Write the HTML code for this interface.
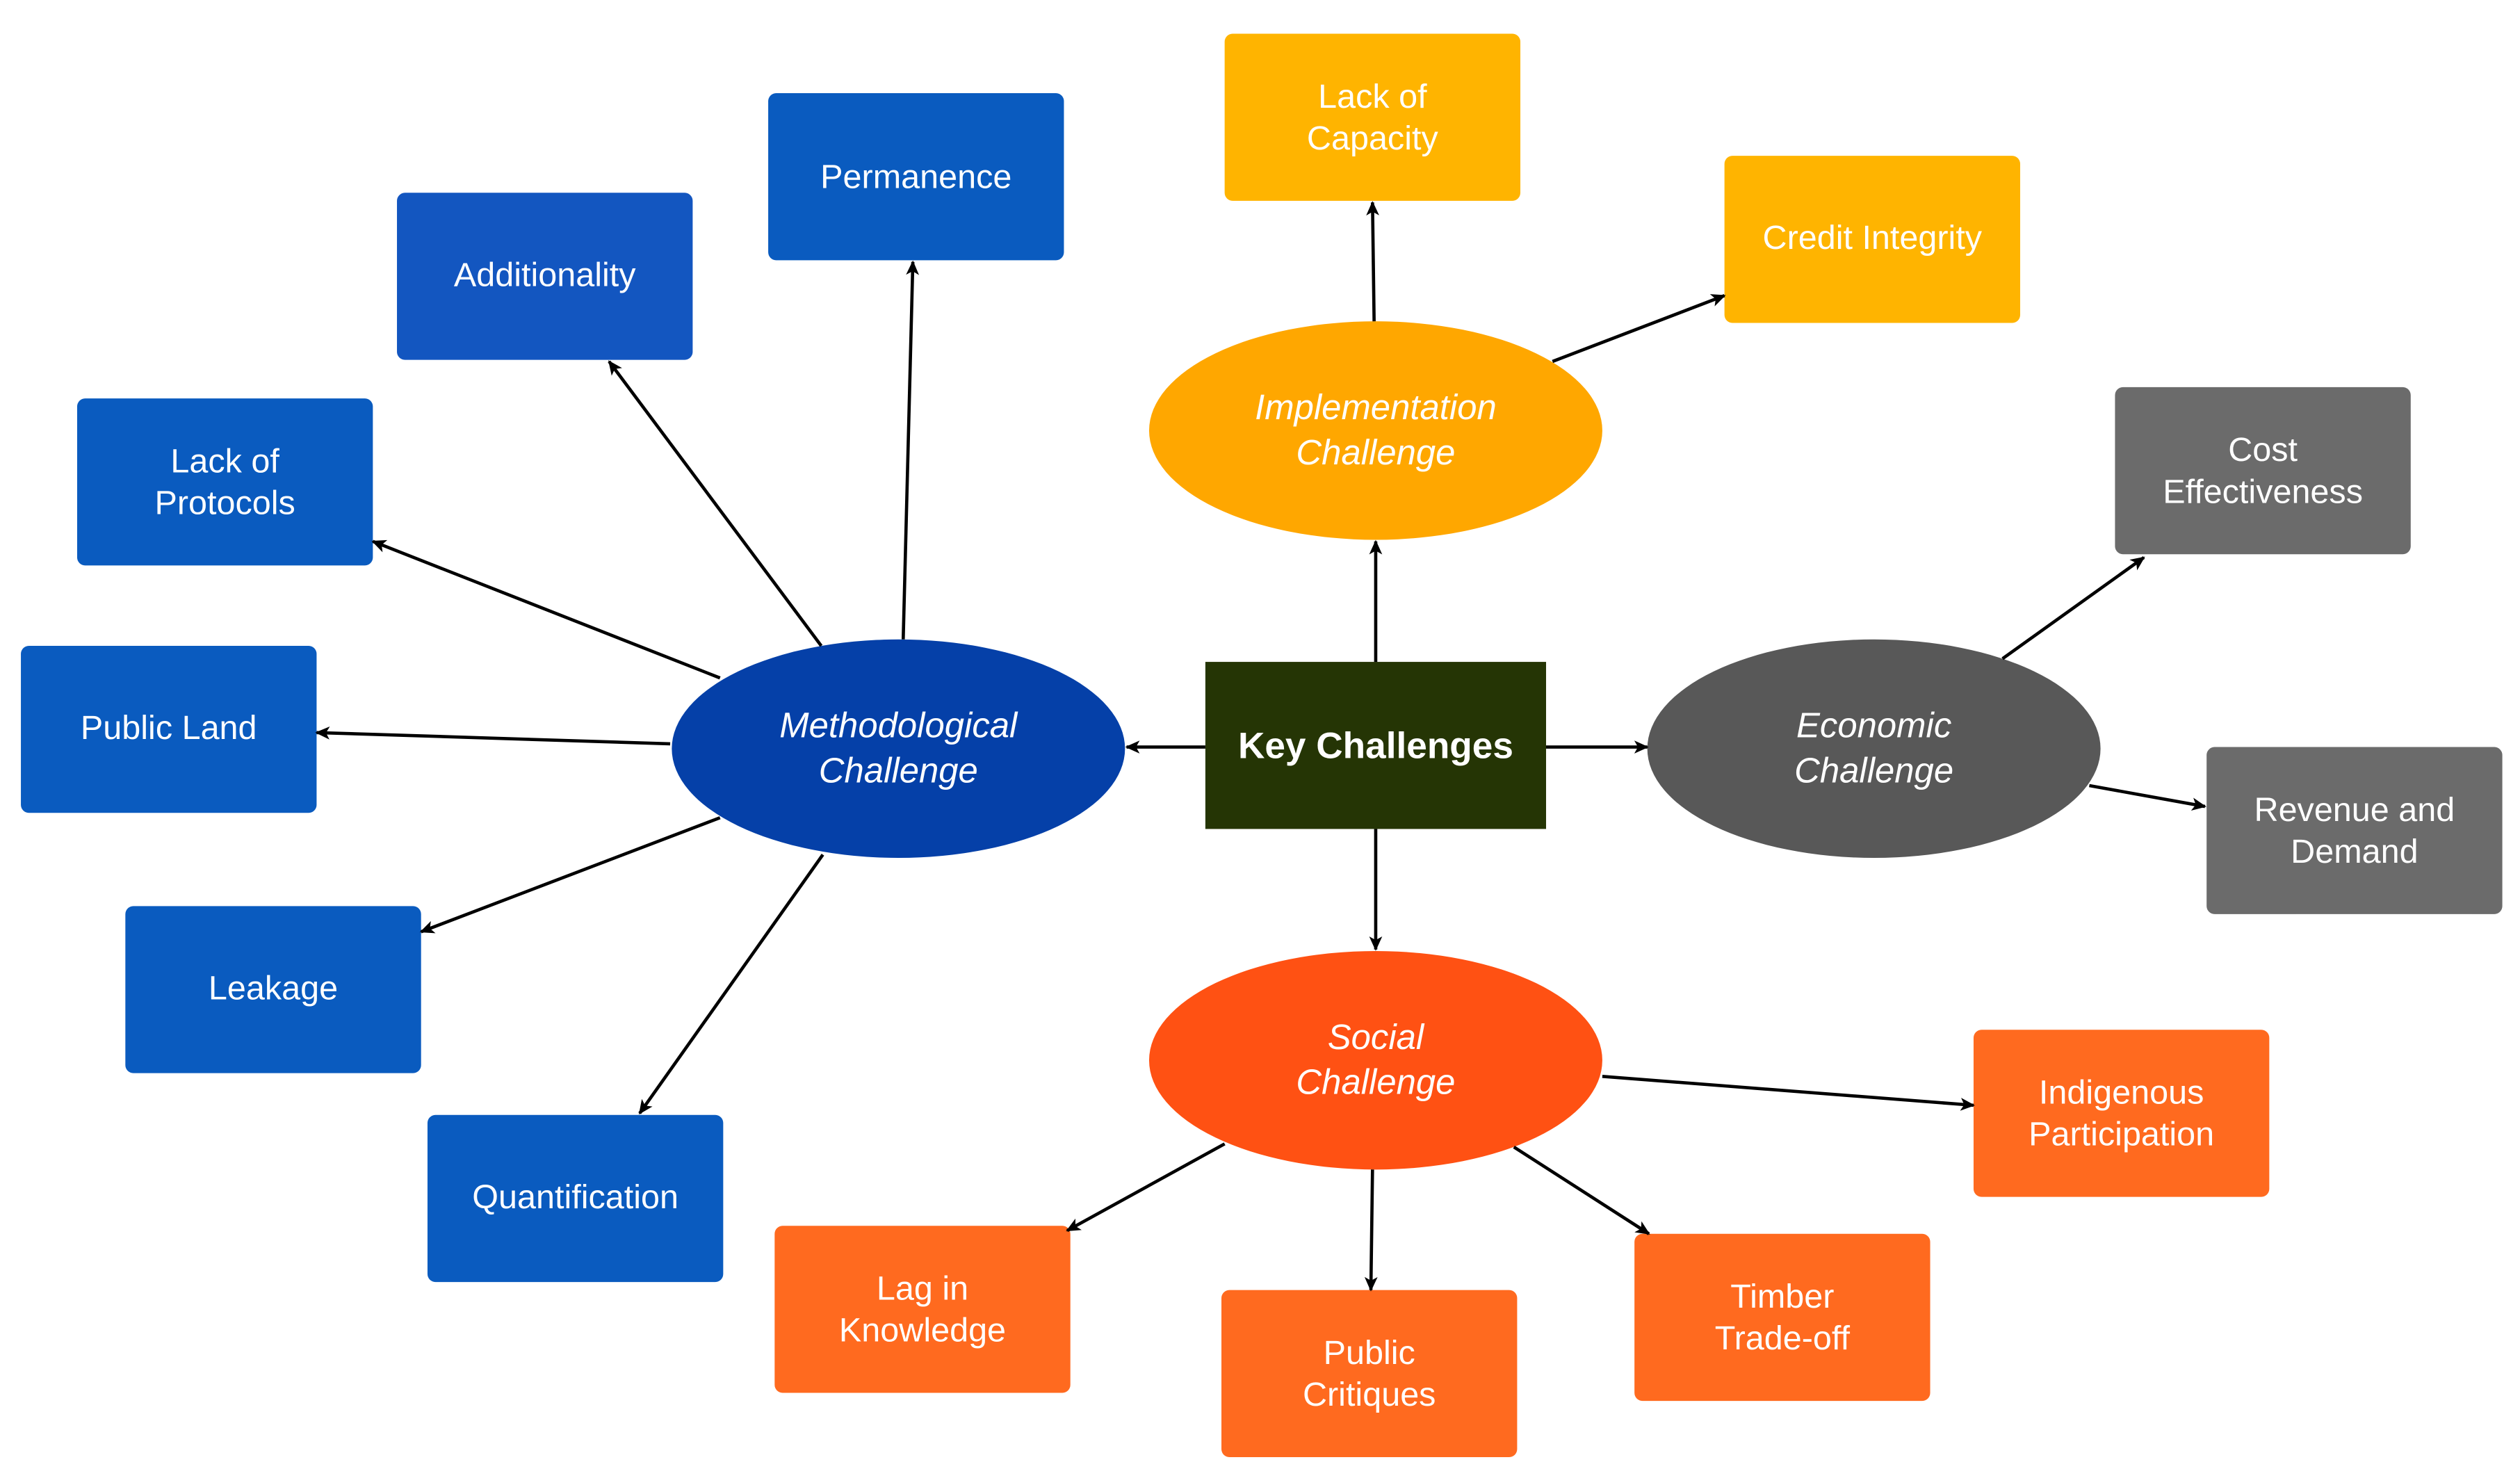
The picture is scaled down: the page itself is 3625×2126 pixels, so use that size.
<!DOCTYPE html>
<html><head><meta charset="utf-8"><style>
html,body{margin:0;padding:0;background:#fff;}
svg{display:block;}
text{font-family:"Liberation Sans",Arial,sans-serif;fill:#fff;font-size:21px;text-anchor:middle;}
.i{font-style:italic;font-size:22px;}
</style></head><body>
<svg width="3625" height="2126" viewBox="0 0 1568 920" preserveAspectRatio="none" xmlns="http://www.w3.org/2000/svg">
<defs>
<marker id="a" viewBox="0 0 20 20" refX="18" refY="10" markerWidth="9" markerHeight="9" markerUnits="userSpaceOnUse" orient="auto">
<path d="M0,1 L20,10 L0,19 L5,10 Z" fill="#000"/>
</marker>
</defs>
<rect width="1568" height="920" fill="#fff"/>
<!-- boxes -->
<g>
<rect x="478" y="58" width="184" height="104" rx="5" fill="#0a5bbf"/>
<rect x="247" y="120" width="184" height="104" rx="5" fill="#1356c0"/>
<rect x="48" y="248" width="184" height="104" rx="5" fill="#0a5bbf"/>
<rect x="13" y="402" width="184" height="104" rx="5" fill="#0a5bbf"/>
<rect x="78" y="564" width="184" height="104" rx="5" fill="#0a5bbf"/>
<rect x="266" y="694" width="184" height="104" rx="5" fill="#0a5bbf"/>
<rect x="762" y="21" width="184" height="104" rx="5" fill="#ffb400"/>
<rect x="1073" y="97" width="184" height="104" rx="5" fill="#ffb400"/>
<rect x="1316" y="241" width="184" height="104" rx="5" fill="#6b6b6b"/>
<rect x="1373" y="465" width="184" height="104" rx="5" fill="#6b6b6b"/>
<rect x="1228" y="641" width="184" height="104" rx="5" fill="#ff6a1f"/>
<rect x="1017" y="768" width="184" height="104" rx="5" fill="#ff6a1f"/>
<rect x="760" y="803" width="184" height="104" rx="5" fill="#ff6a1f"/>
<rect x="482" y="763" width="184" height="104" rx="5" fill="#ff6a1f"/>
<ellipse cx="559" cy="466" rx="141" ry="68" fill="#0540a8"/>
<ellipse cx="856" cy="268" rx="141" ry="68" fill="#ffa700"/>
<ellipse cx="1166" cy="466" rx="141" ry="68" fill="#585858"/>
<ellipse cx="856" cy="660" rx="141" ry="68" fill="#ff5113"/>
<rect x="750" y="412" width="212" height="104" fill="#253505"/>
</g>
<!-- arrows -->
<g stroke="#000" stroke-width="2" fill="none" marker-end="url(#a)">
<line x1="750" y1="465" x2="701" y2="465"/>
<line x1="962" y1="465" x2="1025" y2="465"/>
<line x1="856" y1="412" x2="856" y2="337"/>
<line x1="856" y1="516" x2="856" y2="591"/>
<line x1="855" y1="200" x2="854" y2="126"/>
<line x1="966" y1="225" x2="1073" y2="184"/>
<line x1="1246" y1="410" x2="1334" y2="347"/>
<line x1="1300" y1="489" x2="1372" y2="502"/>
<line x1="997" y1="670" x2="1228" y2="688"/>
<line x1="942" y1="714" x2="1026" y2="768"/>
<line x1="854" y1="728" x2="853" y2="803"/>
<line x1="762" y1="712" x2="664" y2="766"/>
<line x1="562" y1="398" x2="568" y2="163"/>
<line x1="511" y1="402" x2="379" y2="225"/>
<line x1="448" y1="422" x2="232" y2="337"/>
<line x1="417" y1="463" x2="197" y2="456"/>
<line x1="448" y1="509" x2="262" y2="580"/>
<line x1="512" y1="532" x2="398" y2="693"/>
</g>
<!-- labels -->
<text x="570" y="117">Permanence</text>
<text x="339" y="178">Additionality</text>
<text x="140" y="294">Lack of</text><text x="140" y="320">Protocols</text>
<text x="105" y="460">Public Land</text>
<text x="170" y="622">Leakage</text>
<text x="358" y="752">Quantification</text>
<text x="854" y="67">Lack of</text><text x="854" y="93">Capacity</text>
<text x="1165" y="155">Credit Integrity</text>
<text x="1408" y="287">Cost</text><text x="1408" y="313">Effectiveness</text>
<text x="1465" y="511">Revenue and</text><text x="1465" y="537">Demand</text>
<text x="1320" y="687">Indigenous</text><text x="1320" y="713">Participation</text>
<text x="1109" y="814">Timber</text><text x="1109" y="840">Trade-off</text>
<text x="852" y="849">Public</text><text x="852" y="875">Critiques</text>
<text x="574" y="809">Lag in</text><text x="574" y="835">Knowledge</text>
<text class="i" x="559" y="459">Methodological</text><text class="i" x="559" y="487">Challenge</text>
<text class="i" x="856" y="261">Implementation</text><text class="i" x="856" y="289">Challenge</text>
<text class="i" x="1166" y="459">Economic</text><text class="i" x="1166" y="487">Challenge</text>
<text class="i" x="856" y="653">Social</text><text class="i" x="856" y="681">Challenge</text>
<text x="856" y="472" style="font-weight:bold;font-size:23px">Key Challenges</text>
</svg>
</body></html>
